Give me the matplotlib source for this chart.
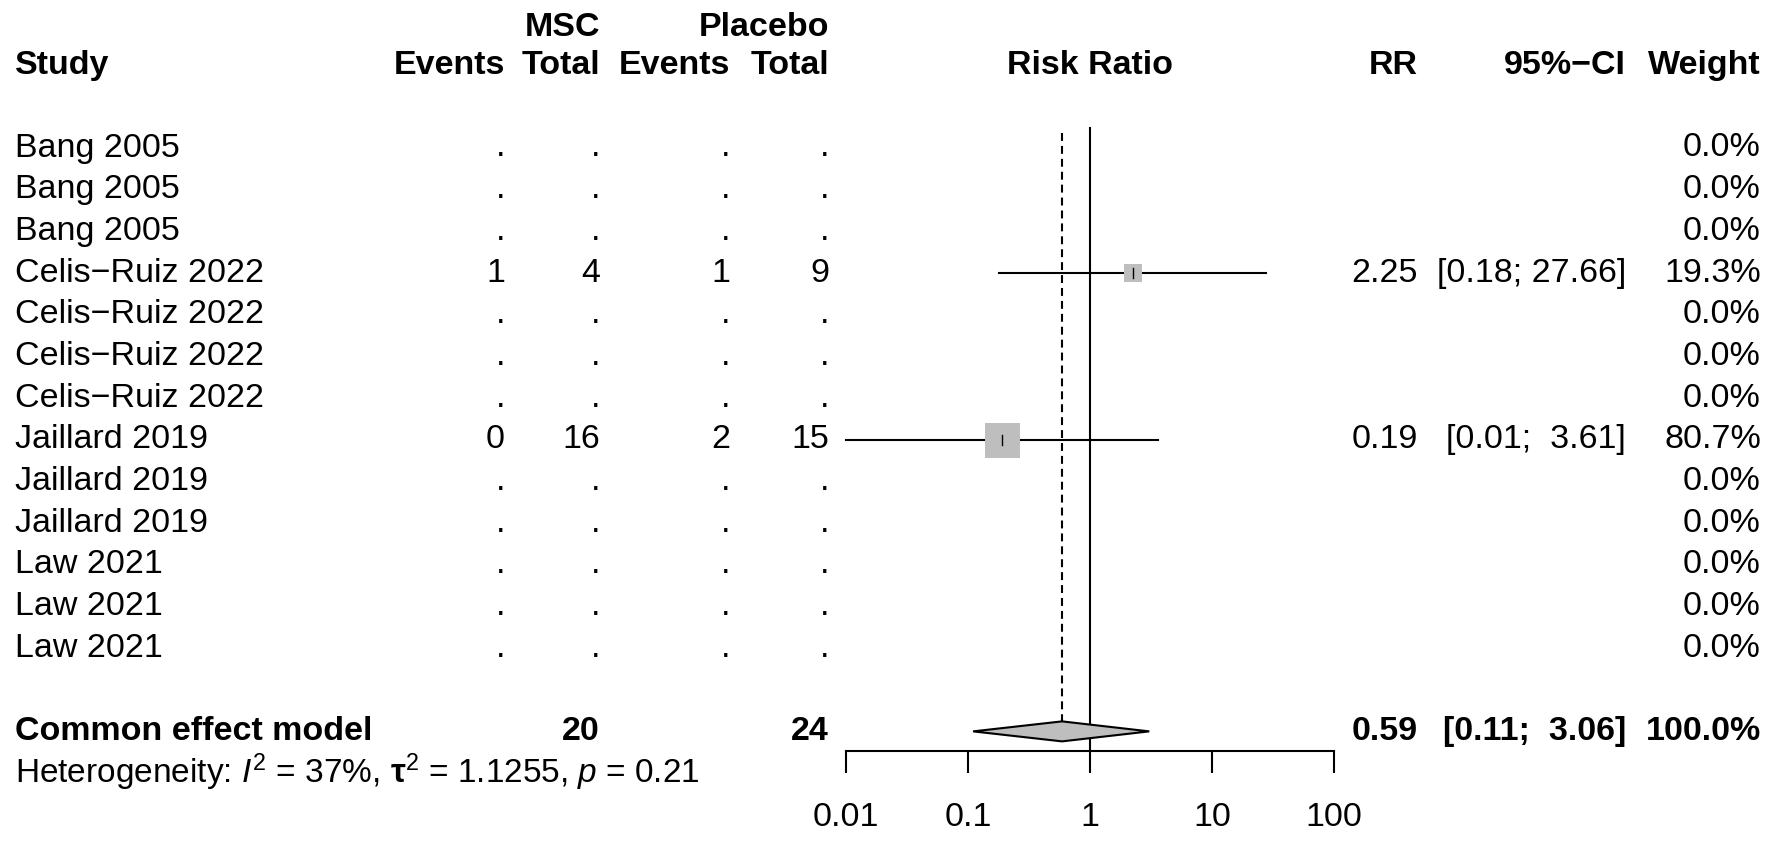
import numpy as np
import matplotlib
matplotlib.use('Agg')
import matplotlib.pyplot as plt

plt.rcParams['font.family'] = ['Liberation Sans', 'DejaVu Sans']
plt.rcParams['mathtext.fontset'] = 'custom'
plt.rcParams['mathtext.rm'] = 'Liberation Sans'
plt.rcParams['mathtext.it'] = 'Liberation Sans:italic'
plt.rcParams['mathtext.bf'] = 'Liberation Sans:bold'

# data
studies = ['Bang 2005'] * 3 + ['Celis\u2212Ruiz 2022'] * 4 + ['Jaillard 2019'] * 3 + ['Law 2021'] * 3
msc_events = ['.', '.', '.', '1', '.', '.', '.', '0', '.', '.', '.', '.', '.']
msc_total = ['.', '.', '.', '4', '.', '.', '.', '16', '.', '.', '.', '.', '.']
pla_events = ['.', '.', '.', '1', '.', '.', '.', '2', '.', '.', '.', '.', '.']
pla_total = ['.', '.', '.', '9', '.', '.', '.', '15', '.', '.', '.', '.', '.']
rr = [np.nan] * 3 + [2.25] + [np.nan] * 3 + [0.19] + [np.nan] * 5
rr_lo = [np.nan] * 3 + [0.18] + [np.nan] * 3 + [0.01] + [np.nan] * 5
rr_hi = [np.nan] * 3 + [27.66] + [np.nan] * 3 + [3.61] + [np.nan] * 5
weight = [0.0, 0.0, 0.0, 19.3, 0.0, 0.0, 0.0, 80.7, 0.0, 0.0, 0.0, 0.0, 0.0]

pooled_rr, pooled_lo, pooled_hi = 0.59, 0.11, 3.06
msc_n, pla_n = 20, 24
het_text = r'Heterogeneity: $\mathit{I}^2$ = 37%, $\mathbf{\tau}^2$ = 1.1255, $\mathit{p}$ = 0.21'
ticks = [0.01, 0.1, 1, 10, 100]
tick_labels = ['0.01', '0.1', '1', '10', '100']

W, H = 1772, 842
FS = 24.5
row0, pitch = 148, 41.67
top = -row0 / pitch
bot = (H - row0) / pitch

fig = plt.figure(figsize=(W / 100, H / 100), dpi=100)

tax = fig.add_axes([0, 0, 1, 1])
tax.set_xlim(0, W)
tax.set_ylim(bot, top)
tax.axis('off')

x0, x1 = 846, 1334
fax = fig.add_axes([x0 / W, 0, (x1 - x0) / W, 1])
fax.set_xscale('log')
fax.set_xlim(0.01, 100)
fax.set_ylim(bot, top)
fax.patch.set_visible(False)
for s in ['top', 'left', 'right']:
    fax.spines[s].set_visible(False)
fax.spines['bottom'].set_position(('data', 14.47))
fax.spines['bottom'].set_linewidth(1.5)
fax.set_yticks([])
fax.set_xticks(ticks)
fax.set_xticklabels(tick_labels)
fax.xaxis.set_minor_locator(matplotlib.ticker.NullLocator())
fax.tick_params(axis='x', length=16, width=1.5, pad=21, labelsize=FS)

# columns (right edges)
c_ev1, c_n1, c_ev2, c_n2 = 505, 600, 730, 829
c_rr, c_ci, c_w = 1418, 1626, 1761
x_left = 15

# header
tax.text(c_n1, -2.9, 'MSC', ha='right', va='center', fontsize=FS, fontweight='bold')
tax.text(c_n2, -2.9, 'Placebo', ha='right', va='center', fontsize=FS, fontweight='bold')
tax.text(x_left, -1.99, 'Study', ha='left', va='center', fontsize=FS, fontweight='bold')
for x, s in [(c_ev1, 'Events'), (c_n1, 'Total'), (c_ev2, 'Events'), (c_n2, 'Total'),
             (c_rr, 'RR'), (c_ci, '95%\u2212CI'), (c_w, 'Weight')]:
    tax.text(x, -1.99, s, ha='right', va='center', fontsize=FS, fontweight='bold')
fax.text(1, -1.99, 'Risk Ratio', ha='center', va='center', fontsize=FS, fontweight='bold')

# study rows
for i, name in enumerate(studies):
    tax.text(x_left, i, name, ha='left', va='center', fontsize=FS)
    for x, s in [(c_ev1, msc_events[i]), (c_n1, msc_total[i]),
                 (c_ev2, pla_events[i]), (c_n2, pla_total[i])]:
        tax.text(x, i, s, ha='right', va='center', fontsize=FS)
    tax.text(c_w, i, f'{weight[i]:.1f}%', ha='right', va='center', fontsize=FS)
    if not np.isnan(rr[i]):
        tax.text(c_rr, i, f'{rr[i]:.2f}', ha='right', va='center', fontsize=FS)
        tax.text(c_ci, i, f'[{rr_lo[i]:.2f}; {rr_hi[i]:5.2f}]', ha='right', va='center', fontsize=FS)
        fax.plot([rr_lo[i], rr_hi[i]], [i, i], color='black', lw=1.5, clip_on=False, zorder=2)
        ms = 25.2 * np.sqrt(weight[i] / max(weight))
        fax.plot(rr[i], i, marker='s', ms=ms, mfc='#bebebe', mec='#bebebe', mew=0, zorder=3)
        fax.plot([rr[i], rr[i]], [i - 0.12, i + 0.12], color='black', lw=1.0, zorder=4)

# reference lines
fax.plot([1, 1], [-0.48, 14.47], color='black', lw=1.5, zorder=1)
fax.plot([pooled_rr, pooled_rr], [-0.36, 14 - 0.24], color='black', lw=1.5,
         ls=(0, (3.8, 2.4)), zorder=1)

# pooled estimate
k = 14
tax.text(x_left, k, 'Common effect model', ha='left', va='center', fontsize=FS, fontweight='bold')
tax.text(c_n1, k, str(msc_n), ha='right', va='center', fontsize=FS, fontweight='bold')
tax.text(c_n2, k, str(pla_n), ha='right', va='center', fontsize=FS, fontweight='bold')
tax.text(c_rr, k, f'{pooled_rr:.2f}', ha='right', va='center', fontsize=FS, fontweight='bold')
tax.text(c_ci, k, f'[{pooled_lo:.2f}; {pooled_hi:5.2f}]', ha='right', va='center', fontsize=FS, fontweight='bold')
tax.text(c_w, k, '100.0%', ha='right', va='center', fontsize=FS, fontweight='bold')
fax.fill([pooled_lo, pooled_rr, pooled_hi, pooled_rr], [k, k - 0.24, k, k + 0.24],
         facecolor='#bebebe', edgecolor='black', lw=1.5, zorder=3)

tax.text(x_left, 14.97, het_text, ha='left', va='center', fontsize=24)

fig.savefig('out.png', dpi=100)
